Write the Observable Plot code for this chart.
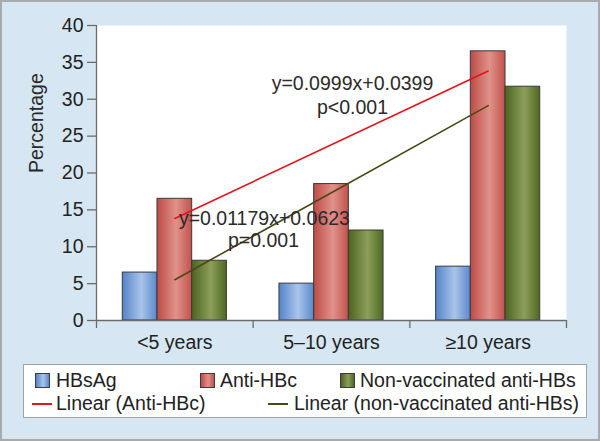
<!DOCTYPE html>
<html>
<head>
<meta charset="utf-8">
<script src="https://cdn.jsdelivr.net/npm/d3@7"></script>
<script src="https://cdn.jsdelivr.net/npm/@observablehq/plot@0.6"></script>
<style>
  html, body { margin: 0; padding: 0; background: #ffffff; }
  #wrap {
    position: relative; width: 600px; height: 441px; box-sizing: border-box;
    border: 2px solid #a7abae; background: #d6e7f3; overflow: hidden;
    font-family: "Liberation Sans", Arial, sans-serif; color: #222;
  }
  #chart { position: absolute; left: 0; top: 0; }
  #legend {
    position: absolute; left: 21px; top: 362px; width: 562px; height: 52px;
    background: #fff; border: 1px solid #9ea3a6; font-size: 19.5px;
  }
  .item { position: absolute; white-space: nowrap; line-height: 20px; }
  .sw { position: absolute; width: 15px; height: 15px; border: 1px solid #3c3c3c; box-sizing: border-box; }
  .ln { position: absolute; width: 20px; height: 0; border-top: 2px solid; }
</style>
</head>
<body>
<div id="wrap">
  <div id="chart"></div>
  <div id="legend"></div>
</div>
<script>
const categories = ["<5 years", "5–10 years", "≥10 years"];
const series = ["HBsAg", "Anti-HBc", "Non-vaccinated anti-HBs"];
const hbsag = [6.5, 5.0, 7.3];
const antiHBc = [16.5, 18.5, 36.5];
const nonVacc = [8.1, 12.2, 31.7];
const yTicks = [0, 5, 10, 15, 20, 25, 30, 35, 40];
const trendLabels = ["Linear (Anti-HBc)", "Linear (non-vaccinated anti-HBs)"];
const redEq = ["y=0.0999x+0.0399", "p<0.001"];
const greenEq = ["y=0.01179x+0.0623", "p=0.001"];

const seriesValues = [hbsag, antiHBc, nonVacc];
const barW = 0.2215;
const bars = [];
categories.forEach((c, i) => {
  series.forEach((s, j) => {
    const center = i + 1;
    const x1 = center - 1.5 * barW + j * barW;
    bars.push({category: c, series: s, x1, x2: x1 + barW, value: seriesValues[j][i]});
  });
});
const redPts = categories.map((c, i) => ({x: i + 1, v: antiHBc[i]}));
const greenPts = categories.map((c, i) => ({x: i + 1, v: nonVacc[i]}));

const font = "'Liberation Sans', Arial, sans-serif";
const axisColor = "#6b6b6b";
const fs = 19.5;

const plot = Plot.plot({
  width: 596, height: 358,
  marginTop: 23, marginBottom: 40, marginLeft: 94, marginRight: 32,
  style: {background: "transparent", fontFamily: font, fontSize: fs + "px", color: "#222", overflow: "visible"},
  x: {domain: [0.5, 3.5], axis: null},
  y: {domain: [0, 40], axis: null},
  color: {domain: series, range: ["url(#gBlue)", "url(#gRed)", "url(#gGreen)"]},
  marks: [
    Plot.frame({fill: "white", stroke: "none"}),
    Plot.rectY(bars, {x1: "x1", x2: "x2", y: "value", fill: "series", stroke: "#3a3a3a", strokeWidth: 1}),
    Plot.linearRegressionY(redPts, {x: "x", y: "v", ci: 0, stroke: "#e3131b", strokeWidth: 1.6}),
    Plot.linearRegressionY(greenPts, {x: "x", y: "v", ci: 0, stroke: "#4b4714", strokeWidth: 1.6}),
    Plot.text([redEq[0]], {x: 2.134, y: 32.1, text: d => d, fontSize: fs, fill: "#2a2a2a"}),
    Plot.text([redEq[1]], {x: 2.134, y: 28.9, text: d => d, fontSize: fs, fill: "#2a2a2a"}),
    Plot.text([greenEq[0]], {x: 1.572, y: 13.8, text: d => d, fontSize: fs, fill: "#2a2a2a"}),
    Plot.text([greenEq[1]], {x: 1.566, y: 10.85, text: d => d, fontSize: fs, fill: "#2a2a2a"}),
    Plot.ruleX([0.5], {stroke: axisColor, strokeWidth: 1.3}),
    Plot.ruleY([0], {stroke: axisColor, strokeWidth: 1.3}),
    Plot.axisY({ticks: yTicks, tickSize: 9, tickPadding: 4, fontSize: fs, stroke: axisColor, strokeWidth: 1.3, tickFormat: d => String(d), label: null}),
    Plot.axisX({ticks: [0.5, 1.5, 2.5, 3.5], tickSize: 8, tickFormat: () => "", stroke: axisColor, strokeWidth: 1.3, label: null}),
    Plot.axisX({ticks: [1, 2, 3], tickSize: 0, tickPadding: 14.5, fontSize: fs, tickFormat: i => categories[i - 1], label: null}),
    Plot.text(["Percentage"], {frameAnchor: "left", dx: -60, rotate: -90, text: d => d, fontSize: fs, fill: "#2a2a2a"})
  ]
});

// gradient definitions for the cylinder-like bar shading
const ns = "http://www.w3.org/2000/svg";
const defs = document.createElementNS(ns, "defs");
const grads = {
  gBlue: ["#5484c9", "#a9c4ea", "#5a88cc"],
  gRed: ["#bd4b46", "#e0928a", "#c2524c"],
  gGreen: ["#4b6421", "#8c9f59", "#4e6823"]
};
for (const [id, [a, b, c]] of Object.entries(grads)) {
  const g = document.createElementNS(ns, "linearGradient");
  g.setAttribute("id", id);
  g.setAttribute("x1", "0"); g.setAttribute("x2", "1"); g.setAttribute("y1", "0"); g.setAttribute("y2", "0");
  [[0, a], [0.55, b], [1, c]].forEach(([o, col]) => {
    const s = document.createElementNS(ns, "stop");
    s.setAttribute("offset", o); s.setAttribute("stop-color", col);
    g.appendChild(s);
  });
  defs.appendChild(g);
}
plot.insertBefore(defs, plot.firstChild);
document.getElementById("chart").appendChild(plot);

// legend
const legend = document.getElementById("legend");
const swFills = [
  "linear-gradient(90deg,#5484c9,#a9c4ea 55%,#5a88cc)",
  "linear-gradient(90deg,#bd4b46,#e0928a 55%,#c2524c)",
  "linear-gradient(90deg,#4b6421,#8c9f59 55%,#4e6823)"
];
const swX = [11, 176, 316];
const txX = [32, 196, 336];
series.forEach((s, j) => {
  const sw = document.createElement("div");
  sw.className = "sw"; sw.style.left = swX[j] + "px"; sw.style.top = "8px"; sw.style.background = swFills[j];
  legend.appendChild(sw);
  const t = document.createElement("div");
  t.className = "item"; t.style.left = txX[j] + "px"; t.style.top = "5px"; t.textContent = s;
  legend.appendChild(t);
});
const lnX = [8, 244];
const lnTx = [32, 270];
const lnCol = ["#e3131b", "#4b4714"];
trendLabels.forEach((s, j) => {
  const l = document.createElement("div");
  l.className = "ln"; l.style.left = lnX[j] + "px"; l.style.top = "38px"; l.style.borderColor = lnCol[j];
  legend.appendChild(l);
  const t = document.createElement("div");
  t.className = "item"; t.style.left = lnTx[j] + "px"; t.style.top = "28px"; t.textContent = s;
  legend.appendChild(t);
});
</script>
</body>
</html>
